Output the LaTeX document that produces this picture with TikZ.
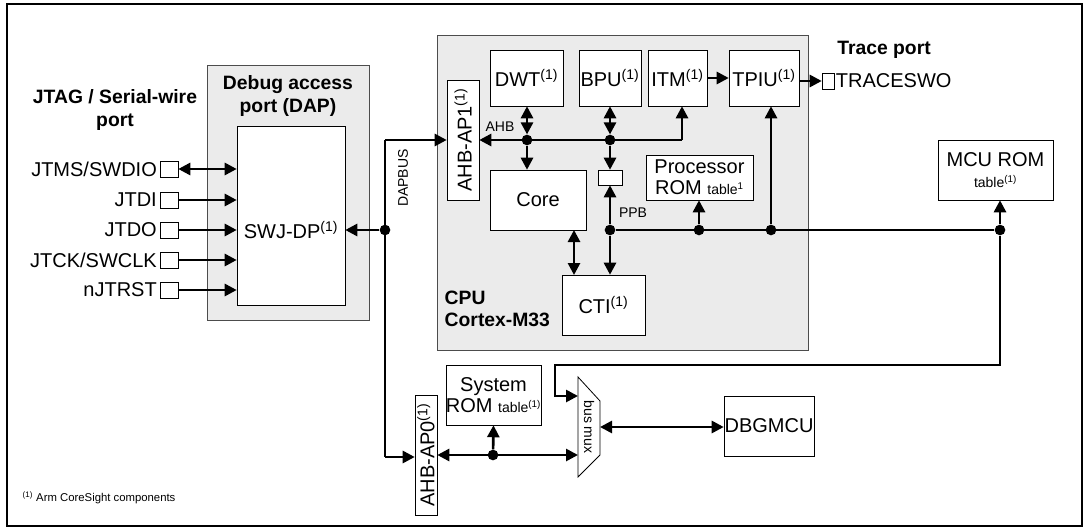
\documentclass[tikz,border=0pt]{standalone}
\usepackage{fontspec}
\setmainfont{Liberation Sans}
\usetikzlibrary{arrows.meta}
\tikzset{
  box/.style 2 args={draw, fill=white, minimum width=#1*0.75pt, minimum height=#2*0.75pt, inner sep=0pt, align=center, font=\fontsize{15}{16}\selectfont},
  grey box/.style 2 args={draw=black!70, fill=black!8, minimum width=#1*0.75pt, minimum height=#2*0.75pt, inner sep=0pt},
  pin/.style={draw, fill=white, minimum width=13.5pt, minimum height=12pt, inner sep=0pt},
  bus/.style={line width=2pt, -{Triangle[length=9pt,width=9pt]}},
  dbus/.style={line width=2pt, {Triangle[length=9pt,width=9pt]}-{Triangle[length=9pt,width=9pt]}},
  dot/.style={circle, fill, inner sep=0pt, minimum size=8pt},
  head/.style={font=\bfseries\fontsize{14.5}{17}\selectfont, align=center},
  lbl/.style={font=\fontsize{10.5}{11}\selectfont, inner sep=1pt}
}
\newcommand{\fn}{\textsuperscript{(1)}}
\begin{document}
\begin{tikzpicture}[x=0.75pt, y=-0.75pt]
\useasboundingbox (0,0) rectangle (1087,527);
\draw[line width=1pt] (7,4) rectangle (1082,526);
% grey groups
\node[grey box={162}{255}] (dap) at (288,192.5) {};
\node[grey box={371}{315}] (cpu) at (622.5,192.5) {};
\node[head] at (288,96) {Debug access\\port (DAP)};
\node[head] at (115,110) {JTAG / Serial-wire\\port};
\node[head, anchor=north west, align=left] at (440,286) {CPU\\Cortex-M33};
\node[head] (trace) at (884,50) {Trace port};
% blocks
\node[box={108}{179}] (swj) at (291,215.5) {};
\node[box={32}{120}] (ap1) at (463,140) {};
\node[rotate=90, font=\fontsize{15}{16}\selectfont] at (ap1) {AHB-AP1\fn};
\node[box={73}{56}] (dwt) at (526.5,78) {DWT\fn};
\node[box={62}{56}] (bpu) at (610,78) {BPU\fn};
\node[box={59}{56}] (itm) at (677.5,78) {ITM\fn};
\node[box={70}{56}] (tpiu) at (764,78) {TPIU\fn};
\node[box={96}{60}] (core) at (538,200) {Core};
\node[box={24}{15}] (ppbox) at (610,177.5) {};
\node[box={83}{60}] (cti) at (603.5,305) {CTI\fn};
\node[box={107}{45}] (prom) at (699.5,177.5) {Processor\\ROM {\fontsize{10.5}{11}\selectfont table\textsuperscript{1}}};
\node[box={115}{60}] (mcurom) at (995.5,170) {MCU ROM\\{\fontsize{10.5}{11}\selectfont table\fn}};
\node[box={89}{60}] (sysrom) at (493.5,395) {System\\ROM {\fontsize{10.5}{11}\selectfont table\fn}};
\node[box={22}{120}] (ap0) at (426,455) {};
\node[rotate=90, font=\fontsize{15}{16}\selectfont] at (ap0) {AHB-AP0\fn};
\node[box={90}{60}] (dbgmcu) at (769,426) {DBGMCU};
\node[font=\fontsize{15}{16}\selectfont] (swjlbl) at (291,230) {SWJ-DP\fn};
% bus mux
\draw[fill=white, line width=0.6pt] (578,377) -- (600,401) -- (600,455) -- (578,477) -- cycle;
\node[rotate=-90, font=\fontsize{10.5}{11}\selectfont] (mux) at (589,427) {bus mux};
\coordinate (muxin) at (578,396);
\coordinate (muxbus) at (578,455);
\coordinate (muxout) at (600,427);
% JTAG pins
\foreach \name/\yy in {{JTMS/SWDIO}/169, {JTDI}/200, {JTDO}/230, {JTCK/SWCLK}/260, {nJTRST}/290}{
  \node[pin] (p\yy) at (169,\yy) {};
  \node[anchor=east, font=\fontsize{15}{16}\selectfont, inner sep=2pt] at (p\yy.west) {\name};
}
\draw[dbus] (p169.east) -- (p169.east -| swj.west);
\foreach \yy in {200,230,260,290}
  \draw[bus] (p\yy.east) -- (p\yy.east -| swj.west);
% DAPBUS
\node[dot] (jdap) at (385,230) {};
\coordinate (dtop) at (385,140);
\coordinate (dbot) at (385,457);
\draw[bus] (jdap) -- (swj.east |- jdap);
\draw[line width=2pt] (dtop) -- (dbot);
\draw[bus] (dtop) -- (ap1.west |- dtop);
\draw[bus] (dbot) -- (ap0.west |- dbot);
\node[lbl, rotate=90] at (403,178) {DAPBUS};
% AHB
\node[dot] (jdwt) at (527,140) {};
\node[dot] (jbpu) at (610,140) {};
\coordinate (ahbitm) at (682,140);
\draw[bus] (ahbitm) -- (ap1.east |- ahbitm);
\draw[bus] (ahbitm) -- (ahbitm |- itm.south);
\draw[dbus] (jdwt) -- (jdwt |- dwt.south);
\draw[bus] (jdwt) -- (jdwt |- core.north);
\draw[dbus] (jbpu) -- (jbpu |- bpu.south);
\draw[bus] (jbpu) -- (ppbox.north);
\node[lbl] at (500,127) {AHB};
% PPB
\node[dot] (jppb) at (610,230) {};
\node[dot] (jprom) at (699,230) {};
\node[dot] (jtpiu) at (771,230) {};
\node[dot] (jmcu) at (1000,230) {};
\draw[bus] (jppb) -- (ppbox.south);
\draw[bus] (jppb) -- (jppb |- cti.north);
\draw[line width=2pt] (jppb) -- (jmcu);
\draw[bus] (jprom) -- (jprom |- prom.south);
\draw[bus] (jtpiu) -- (jtpiu |- tpiu.south);
\draw[bus] (jmcu) -- (jmcu |- mcurom.south);
\node[lbl] at (633,213) {PPB};
\draw[dbus] (574,230) -- (574,275);
\coordinate (c1) at (1000,365);
\coordinate (c2) at (555,365);
\draw[bus] (jmcu) -- (c1) -- (c2) |- (muxin);
% trace
\draw[bus] (itm.east) -- (tpiu.west);
\node[pin, minimum width=9pt] (tswo) at (828,81) {};
\draw[bus] (tpiu.east |- tswo) -- (tswo.west);
\node[anchor=west, font=\fontsize{15}{16}\selectfont, inner sep=1pt] at (tswo.east) {TRACESWO};
% bottom bus
\node[dot] (jsys) at (493,455) {};
\draw[dbus] (ap0.east |- muxbus) -- (muxbus);
\draw[bus] (jsys) -- (sysrom.south);
\draw[dbus] (muxout) -- (dbgmcu.west |- muxout);
% footnote
\node[anchor=west, font=\fontsize{8.5}{9}\selectfont] at (18,498) {\textsuperscript{(1)} Arm CoreSight components};
\end{tikzpicture}
\end{document}
